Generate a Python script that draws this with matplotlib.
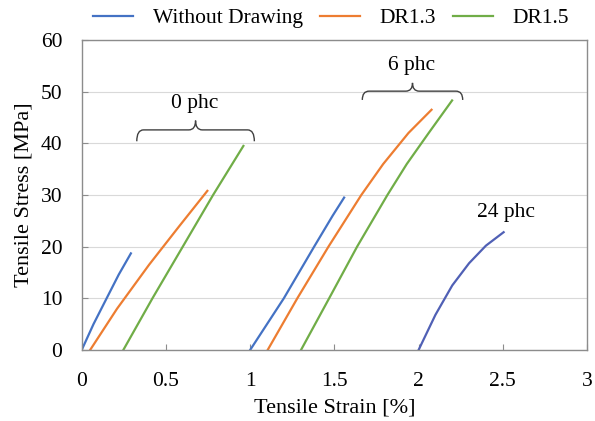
import matplotlib
matplotlib.use("Agg")
import matplotlib.pyplot as plt
from matplotlib.path import Path
from matplotlib.patches import PathPatch
from matplotlib.lines import Line2D

plt.rcParams['font.family'] = ['Liberation Serif', 'DejaVu Serif']

# courbes (déformation %, contrainte MPa)
wo_0_x = [0.0, 0.07, 0.148, 0.22, 0.292]
wo_0_y = [0.0, 5.0, 10.0, 14.6, 18.7]
dr13_0_x = [0.05, 0.21, 0.40, 0.58, 0.746]
dr13_0_y = [0.0, 8.0, 16.5, 24.0, 30.8]
dr15_0_x = [0.247, 0.42, 0.60, 0.78, 0.96]
dr15_0_y = [0.0, 10.0, 20.0, 30.0, 39.5]

wo_6_x = [1.0, 1.2, 1.38, 1.49, 1.558]
wo_6_y = [0.0, 10.0, 20.0, 26.0, 29.5]
dr13_6_x = [1.104, 1.280, 1.465, 1.66, 1.79, 1.94, 2.077]
dr13_6_y = [0.0, 10.0, 20.0, 30.0, 36.0, 42.0, 46.5]
dr15_6_x = [1.302, 1.469, 1.635, 1.815, 1.93, 2.06, 2.199]
dr15_6_y = [0.0, 10.0, 20.0, 30.0, 36.0, 42.0, 48.3]

wo_24_x = [2.0, 2.1, 2.2, 2.3, 2.4, 2.505]
wo_24_y = [0.0, 6.8, 12.5, 16.8, 20.2, 22.8]

series_labels = ['Without Drawing', 'DR1.3', 'DR1.5']
colors = ['#4472C4', '#ED7D31', '#70AD47']
color_24 = '#5060B5'

group_labels = ['0 phc', '6 phc', '24 phc']


def brace(ax, x0, x1, y_end, y_flat, y_tip, w=0.04):
    # accolade horizontale, pointe vers le haut
    xm = (x0 + x1) / 2
    verts = [(x0, y_end), (x0, y_flat), (x0 + w, y_flat),
             (xm - w, y_flat),
             (xm, y_flat), (xm, y_tip),
             (xm, y_flat), (xm + w, y_flat),
             (x1 - w, y_flat),
             (x1, y_flat), (x1, y_end)]
    codes = [Path.MOVETO, Path.CURVE3, Path.CURVE3,
             Path.LINETO,
             Path.CURVE3, Path.CURVE3,
             Path.CURVE3, Path.CURVE3,
             Path.LINETO,
             Path.CURVE3, Path.CURVE3]
    ax.add_patch(PathPatch(Path(verts, codes), fill=False, ec='#404040', lw=1.0))


fig = plt.figure(figsize=(5.95, 4.21), dpi=100)
ax = fig.add_axes([81.7 / 595, 1 - 350 / 421, (587 - 81.7) / 595, (350 - 40) / 421])

lw = 1.6
ax.plot(wo_0_x, wo_0_y, color=colors[0], lw=lw)
ax.plot(dr13_0_x, dr13_0_y, color=colors[1], lw=lw)
ax.plot(dr15_0_x, dr15_0_y, color=colors[2], lw=lw)
ax.plot(wo_6_x, wo_6_y, color=colors[0], lw=lw)
ax.plot(dr13_6_x, dr13_6_y, color=colors[1], lw=lw)
ax.plot(dr15_6_x, dr15_6_y, color=colors[2], lw=lw)
ax.plot(wo_24_x, wo_24_y, color=color_24, lw=lw)

ax.set_xlim(0, 3)
ax.set_ylim(0, 60)
ax.set_xticks([0, 0.5, 1, 1.5, 2, 2.5, 3])
ax.set_xticklabels(['0', '0.5', '1', '1.5', '2', '2.5', '3'])
ax.set_yticks(range(0, 61, 10))
ax.yaxis.grid(True, color='#d9d9d9', lw=0.8)
ax.set_axisbelow(True)
for s in ax.spines.values():
    s.set_color('#8c8c8c')
    s.set_linewidth(1.0)
ax.tick_params(axis='both', direction='in', length=4, color='#8c8c8c', labelsize=15.5)
ax.tick_params(axis='x', pad=16)
ax.tick_params(axis='y', pad=14)

ax.set_xlabel('Tensile Strain [%]', fontsize=16, labelpad=5)
ax.set_ylabel('Tensile Stress [MPa]', fontsize=16, labelpad=5)

brace(ax, 0.327, 1.025, 40.4, 42.6, 44.4)
brace(ax, 1.666, 2.262, 48.4, 50.1, 51.7)
ax.text(0.67, 47.8, group_labels[0], ha='center', va='center', fontsize=15.5)
ax.text(1.96, 55.1, group_labels[1], ha='center', va='center', fontsize=15.5)
ax.text(2.52, 26.6, group_labels[2], ha='center', va='center', fontsize=15.5)

handles = [Line2D([], [], color=c, lw=lw) for c in colors]
fig.legend(handles, series_labels, loc='center', bbox_to_anchor=(331 / 595, 1 - 18 / 421),
           ncol=3, frameon=False, fontsize=15.5, handlelength=1.85,
           handletextpad=0.9, columnspacing=0.8, borderaxespad=0)

fig.savefig('out.png', dpi=100)
